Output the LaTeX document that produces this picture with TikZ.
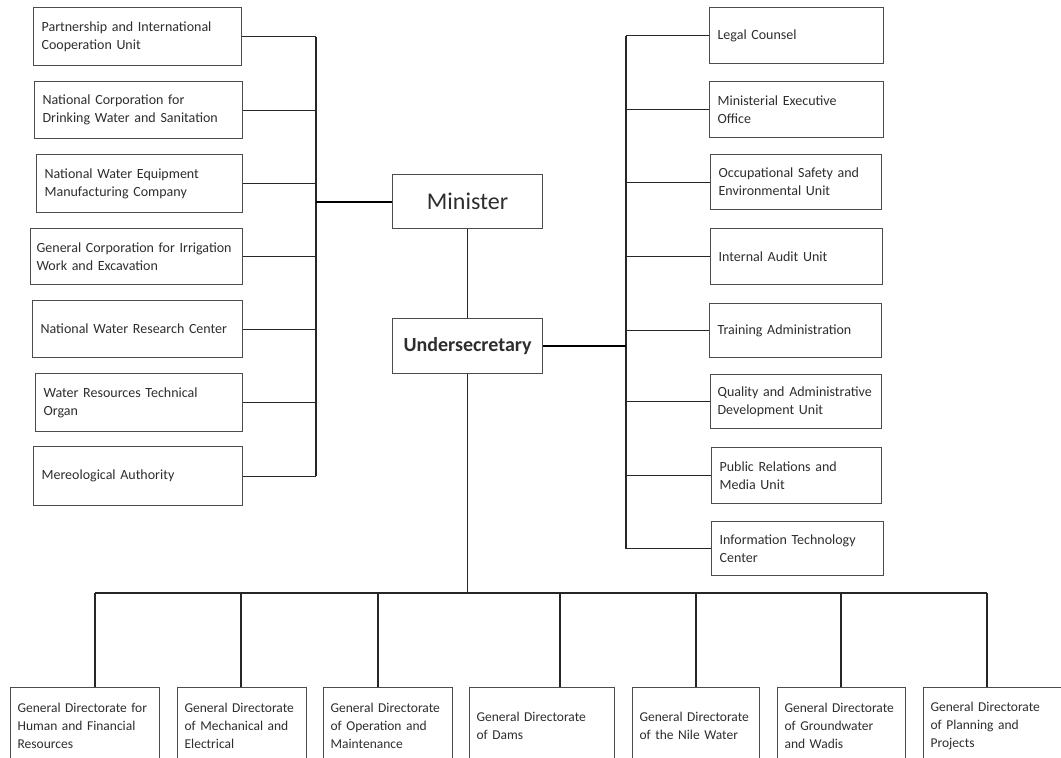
\documentclass[tikz,border=0pt]{standalone}
\usepackage{fontspec}
\setmainfont{Carlito}
\begin{document}
\begin{tikzpicture}[x=1pt,y=-1pt,
  box/.style={draw=black!70, line width=1.2pt, rectangle, anchor=north west, inner xsep=8pt, inner ysep=2pt,
    align=left, text=black!82, font=\fontsize{14}{18}\selectfont},
  bbox/.style={box, inner xsep=7pt, font=\fontsize{13.5}{18}\selectfont},
  thin/.style={draw=black!85, line width=1.1pt},
  thick/.style={draw=black, line width=2pt},
  bus/.style={draw=black!85, line width=1.4pt}]
\useasboundingbox (0,0) rectangle (1061,758);
\clip (0,0) rectangle (1061,758);
\fill[white] (0,0) rectangle (1061,758);

% left column
\node[box, minimum width=208pt, minimum height=58pt, text width=192pt] (L1) at (33,7) {Partnership and International\\Cooperation Unit};
\node[box, minimum width=208pt, minimum height=57pt, text width=192pt] (L2) at (34,81) {National Corporation for\\Drinking Water and Sanitation};
\node[box, minimum width=206pt, minimum height=58pt, text width=190pt] (L3) at (36,154) {National Water Equipment\\Manufacturing Company};
\node[box, minimum width=212pt, minimum height=56pt, text width=200pt, inner xsep=6pt] (L4) at (30,228) {General Corporation for Irrigation\\Work and Excavation};
\node[box, minimum width=210pt, minimum height=57pt, text width=194pt] (L5) at (32,300) {National Water Research Center};
\node[box, minimum width=207pt, minimum height=58pt, text width=191pt] (L6) at (35,373) {Water Resources Technical\\Organ};
\node[box, minimum width=209pt, minimum height=59pt, text width=193pt] (L7) at (33,446) {Mereological Authority};

% centre
\node[box, minimum width=150pt, minimum height=54pt, align=center, font=\fontsize{24}{28}\selectfont] (min) at (392,174) {Minister};
\node[box, minimum width=150pt, minimum height=55pt, align=center, font=\fontsize{20}{24}\selectfont\bfseries] (und) at (392,318) {Undersecretary};

% right column
\node[box, minimum width=174pt, minimum height=56pt, text width=158pt] (R1) at (709,7) {Legal Counsel};
\node[box, minimum width=174pt, minimum height=56pt, text width=158pt] (R2) at (709,81) {Ministerial Executive\\Office};
\node[box, minimum width=171pt, minimum height=55pt, text width=155pt] (R3) at (710,154) {Occupational Safety and\\Environmental Unit};
\node[box, minimum width=172pt, minimum height=56pt, text width=156pt] (R4) at (710,228) {Internal Audit Unit};
\node[box, minimum width=172pt, minimum height=54pt, text width=156pt] (R5) at (709,303) {Training Administration};
\node[box, minimum width=171pt, minimum height=54pt, text width=157pt, inner xsep=7pt] (R6) at (710,374) {Quality and Administrative\\Development Unit};
\node[box, minimum width=170pt, minimum height=56pt, text width=154pt] (R7) at (711,447) {Public Relations and\\Media Unit};
\node[box, minimum width=172pt, minimum height=54pt, text width=156pt] (R8) at (711,521) {Information Technology\\Center};

% bottom row
\node[bbox, minimum width=149pt, minimum height=76pt, text width=135pt] (B1) at (10,687) {General Directorate for\\Human and Financial\\Resources};
\node[bbox, minimum width=129pt, minimum height=76pt, text width=115pt] (B2) at (177,687) {General Directorate\\of Mechanical and\\Electrical};
\node[bbox, minimum width=129pt, minimum height=76pt, text width=115pt] (B3) at (323,687) {General Directorate\\of Operation and\\Maintenance};
\node[bbox, minimum width=145pt, minimum height=76pt, text width=131pt] (B4) at (469,687) {General Directorate\\of Dams};
\node[bbox, minimum width=127pt, minimum height=76pt, text width=113pt] (B5) at (632,687) {General Directorate\\of the Nile Water};
\node[bbox, minimum width=128pt, minimum height=76pt, text width=114pt] (B6) at (777,687) {General Directorate\\of Groundwater\\and Wadis};
\node[bbox, minimum width=150pt, minimum height=76pt, text width=136pt] (B7) at (923,687) {General Directorate\\of Planning and\\Projects};

% left bus
\coordinate (lbusTop) at (316,37);
\draw[bus] (L1.east -| lbusTop) -- (L7.east -| lbusTop);
\foreach \n in {L1,L2,L3,L4,L5,L6,L7} \draw[thin] (\n.east) -- (\n.east -| lbusTop);
\draw[thick] (min.west -| lbusTop) -- (min.west);

% minister - undersecretary
\draw[thin] (min.south) -- (und.north);

% right bus
\coordinate (rbus) at (626,0);
\draw[bus] (R1.west -| rbus) -- (R8.west -| rbus);
\foreach \n in {R1,R2,R3,R4,R5,R6,R7,R8} \draw[thin] (\n.west) -- (\n.west -| rbus);
\draw[thick] (und.east) -- (und.east -| rbus);

% bottom bus
\coordinate (d1) at (95,593);
\coordinate (d2) at (241,593);
\coordinate (d3) at (378,593);
\coordinate (d4) at (560,593);
\coordinate (d5) at (696,593);
\coordinate (d6) at (841,593);
\coordinate (d7) at (987,593);
\draw[thin] (und.south) -- (und.south |- d1);
\draw[thin] (d1) -- (d7);
\draw[thin] (d1) -- (d1 |- B1.north);
\draw[thin] (d2) -- (d2 |- B2.north);
\draw[thin] (d3) -- (d3 |- B3.north);
\draw[thin] (d4) -- (d4 |- B4.north);
\draw[thin] (d5) -- (d5 |- B5.north);
\draw[thin] (d6) -- (d6 |- B6.north);
\draw[thin] (d7) -- (d7 |- B7.north);
\end{tikzpicture}
\end{document}
